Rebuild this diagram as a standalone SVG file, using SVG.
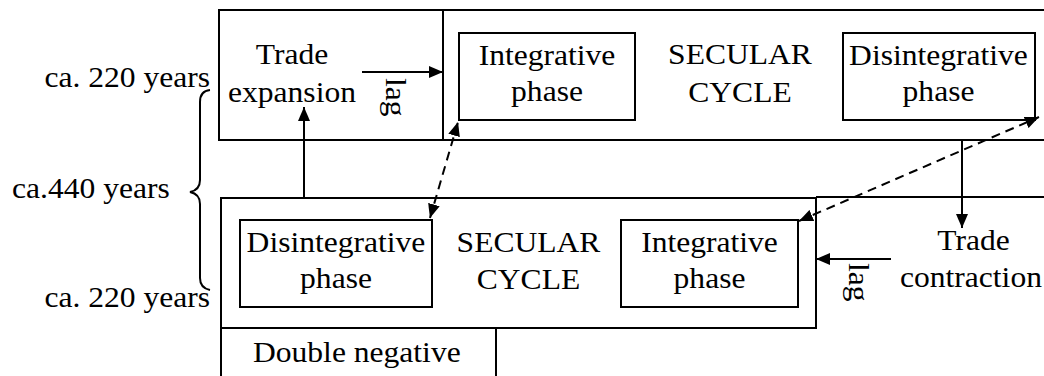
<svg xmlns="http://www.w3.org/2000/svg" width="1044" height="376" viewBox="0 0 1044 376">
  <style>
    .box { fill: none; stroke: #000; stroke-width: 2; }
    .ln { fill: none; stroke: #000; stroke-width: 2; }
    .t { font-family: "Liberation Serif", "Times New Roman", serif; font-size: 28.7px; fill: #000; }
    .m { text-anchor: middle; }
    .e { text-anchor: end; }
    .arr { fill: none; stroke: #000; stroke-width: 2; marker-end: url(#ah); }
    .dash { fill: none; stroke: #000; stroke-width: 2; stroke-dasharray: 9 6; marker-start: url(#ahs); marker-end: url(#ah); }
  </style>
  <defs>
    <marker id="ah" viewBox="0 0 14 12" refX="14" refY="6" markerWidth="14" markerHeight="12" markerUnits="userSpaceOnUse" orient="auto">
      <path d="M0,0 L14,6 L0,12 Z" fill="#000"/>
    </marker>
    <marker id="ahs" viewBox="0 0 14 12" refX="0" refY="6" markerWidth="14" markerHeight="12" markerUnits="userSpaceOnUse" orient="auto">
      <path d="M14,0 L0,6 L14,12 Z" fill="#000"/>
    </marker>
  </defs>
  <rect width="1044" height="376" fill="#fff"/>

  <g id="labels">
    <text class="t e" transform="translate(210,87) scale(1.1,1)">ca. 220 years</text>
    <text class="t" transform="translate(12,198) scale(1.1,1)">ca.440 years</text>
    <text class="t e" transform="translate(210,307) scale(1.1,1)">ca. 220 years</text>
    <path class="ln" d="M210,90 Q200,91 200,102 L200,180 Q200,190 190,192 Q200,194 200,204 L200,278 Q200,288 210,290"/>
  </g>

  <g id="top-cycle">
    <rect class="box" x="219" y="10" width="840" height="130"/>
    <line class="ln" x1="443" y1="10" x2="443" y2="140"/>
  </g>
  <g id="trade-expansion">
    <text class="t m" transform="translate(292,64) scale(1.1,1)">Trade</text>
    <text class="t m" transform="translate(292,102) scale(1.1,1)">expansion</text>
  </g>
  <g id="top-integrative">
    <rect class="box" x="459" y="33" width="176" height="87"/>
    <text class="t m" transform="translate(547,65) scale(1.1,1)">Integrative</text>
    <text class="t m" transform="translate(547,101) scale(1.1,1)">phase</text>
  </g>
  <g id="top-secular">
    <text class="t m" transform="translate(740,64) scale(1.1,1)">SECULAR</text>
    <text class="t m" transform="translate(740,102) scale(1.1,1)">CYCLE</text>
  </g>
  <g id="top-disintegrative">
    <rect class="box" x="843" y="33" width="192" height="87"/>
    <text class="t m" transform="translate(938.5,65) scale(1.1,1)">Disintegrative</text>
    <text class="t m" transform="translate(938.5,101) scale(1.1,1)">phase</text>
  </g>

  <g id="bottom-cycle">
    <rect class="box" x="221" y="198" width="595" height="130"/>
    <line class="ln" x1="816" y1="197" x2="1044" y2="197"/>
  </g>
  <g id="bottom-disintegrative">
    <rect class="box" x="240" y="220" width="192" height="87"/>
    <text class="t m" transform="translate(336,252) scale(1.1,1)">Disintegrative</text>
    <text class="t m" transform="translate(336,288) scale(1.1,1)">phase</text>
  </g>
  <g id="bottom-secular">
    <text class="t m" transform="translate(528.5,252) scale(1.1,1)">SECULAR</text>
    <text class="t m" transform="translate(528.5,289) scale(1.1,1)">CYCLE</text>
  </g>
  <g id="bottom-integrative">
    <rect class="box" x="621" y="220" width="177" height="87"/>
    <text class="t m" transform="translate(709.5,252) scale(1.1,1)">Integrative</text>
    <text class="t m" transform="translate(709.5,288) scale(1.1,1)">phase</text>
  </g>
  <g id="trade-contraction">
    <text class="t m" transform="translate(973.5,250) scale(1.1,1)">Trade</text>
    <text class="t" transform="translate(900,287) scale(1.1,1)">contraction</text>
  </g>
  <g id="double-negative">
    <rect class="box" x="221" y="328" width="275" height="50"/>
    <text class="t" transform="translate(253,362) scale(1.1,1)">Double negative</text>
  </g>

  <g id="connectors">
    <line class="arr" x1="362" y1="72" x2="443" y2="72"/>
    <text class="t" transform="translate(386,78) rotate(90) scale(1.1,1)">lag</text>
    <line class="arr" x1="304" y1="198" x2="304" y2="107"/>
    <line class="arr" x1="962" y1="140" x2="962" y2="228"/>
    <line class="arr" x1="891" y1="259" x2="816" y2="259"/>
    <text class="t" transform="translate(849,263) rotate(90) scale(1.1,1)">lag</text>
    <line class="dash" x1="430" y1="218" x2="458" y2="122"/>
    <line class="dash" x1="799" y1="221" x2="1039" y2="117"/>
  </g>
</svg>
